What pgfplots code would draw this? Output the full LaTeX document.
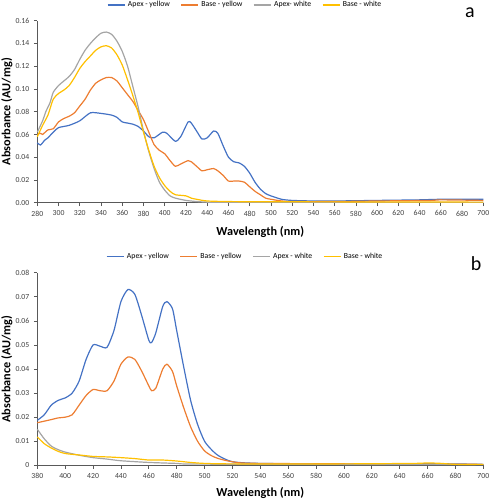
\documentclass[border=0pt]{standalone}
\usepackage{pgfplots}
\pgfplotsset{compat=1.18}
\usepackage{fontspec}
\setmainfont{Carlito}
\definecolor{cblue}{HTML}{4472C4}
\definecolor{corange}{HTML}{ED7D31}
\definecolor{cgray}{HTML}{A5A5A5}
\definecolor{cgold}{HTML}{FFC000}
\definecolor{axgray}{HTML}{595959}
\pgfplotsset{
  common/.style={
    scale only axis,
    width=334.5pt,
    axis x line*=bottom,
    axis y line*=left,
    axis line style={-,draw=axgray,line width=0.6pt},
    tick align=outside,
    major tick length=2.5pt,
    tick style={draw=axgray,line width=0.5pt},
    minor tick num=0,
    scaled y ticks=false,
    scaled x ticks=false,
    ticklabel style={font=\fontsize{5.8}{6}\selectfont, text=black!75},
    /pgf/number format/assume math mode=true,
    xlabel={\textbf{Wavelength (nm)}},
    ylabel={\textbf{Absorbance (AU/mg)}},
    label style={font=\fontsize{9.2}{10}\selectfont},
    ylabel style={at={(axis description cs:-0.068,0.5)},anchor=center},
    legend columns=4,
    legend style={draw=none, fill=none, font=\fontsize{5.8}{6}\selectfont, anchor=center,
      /tikz/every even column/.append style={column sep=6pt}},
    legend image code/.code={\draw[#1] (0cm,0cm) -- (0.45cm,0cm);},
    every axis plot/.append style={line width=0.9pt, no markers, smooth, tension=0.4},
    clip=false,
  }
}
\begin{document}
\begin{tikzpicture}
\useasboundingbox (0,0) rectangle (368.25pt,375pt);
% ---------------- panel a
\begin{axis}[common,
  at={(27.98pt,222.98pt)}, anchor=south west,
  height=136.5pt,
  xmin=280, xmax=700, ymin=0, ymax=0.16,
  xtick={280,300,...,700},
  ytick={0,0.02,...,0.16},
  yticklabel style={/pgf/number format/fixed,/pgf/number format/fixed zerofill,/pgf/number format/precision=2},
  xlabel style={at={(axis description cs:0.5,-0.161)},anchor=center},
  legend style={at={(axis description cs:0.4668,1.086)}},
]
\addplot[cblue] coordinates {(280,0.0527)(283,0.0507)(287,0.055)(290,0.057)(295,0.062)(300,0.066)(310,0.068)(320,0.072)(330,0.079)(340,0.0785)(350,0.077)(355,0.075)(360,0.071)(365,0.070)(370,0.069)(375,0.067)(380,0.063)(385,0.058)(390,0.057)(398,0.062)(402,0.061)(410,0.054)(415,0.058)(422,0.071)(425,0.070)(430,0.063)(435,0.056)(440,0.057)(446,0.063)(450,0.061)(455,0.050)(460,0.040)(465,0.036)(470,0.035)(475,0.032)(480,0.026)(485,0.018)(490,0.012)(495,0.008)(500,0.006)(510,0.003)(520,0.002)(540,0.0015)(560,0.0015)(600,0.002)(640,0.0025)(660,0.003)(700,0.003)};
\addlegendentry{Apex - yellow}
\addplot[corange] coordinates {(280,0.060)(283,0.061)(285,0.060)(290,0.064)(295,0.065)(300,0.071)(305,0.074)(310,0.076)(315,0.079)(320,0.085)(325,0.091)(330,0.099)(335,0.105)(340,0.108)(345,0.110)(350,0.110)(355,0.107)(360,0.101)(365,0.095)(370,0.089)(375,0.081)(380,0.073)(385,0.062)(390,0.051)(395,0.046)(400,0.043)(405,0.037)(410,0.032)(415,0.034)(422,0.037)(425,0.036)(430,0.032)(435,0.028)(440,0.029)(446,0.030)(450,0.028)(455,0.024)(460,0.019)(465,0.019)(470,0.019)(475,0.018)(480,0.014)(485,0.010)(490,0.007)(495,0.004)(500,0.003)(510,0.0015)(520,0.001)(560,0.001)(600,0.0015)(650,0.002)(660,0.0025)(700,0.002)};
\addlegendentry{Base - yellow}
\addplot[cgray] coordinates {(280,0.062)(285,0.072)(288,0.080)(292,0.088)(295,0.097)(300,0.103)(305,0.107)(310,0.111)(315,0.117)(320,0.126)(325,0.134)(330,0.140)(335,0.145)(340,0.149)(345,0.150)(350,0.148)(355,0.142)(360,0.133)(365,0.120)(370,0.102)(375,0.084)(380,0.063)(385,0.045)(390,0.030)(395,0.018)(400,0.011)(405,0.006)(410,0.004)(420,0.002)(430,0.001)(440,0.0005)(460,0.0003)(700,0.0003)};
\addlegendentry{Apex- white}
\addplot[cgold] coordinates {(280,0.058)(285,0.068)(290,0.077)(295,0.091)(300,0.096)(305,0.099)(310,0.103)(315,0.110)(320,0.118)(325,0.124)(330,0.129)(335,0.134)(340,0.137)(345,0.138)(350,0.136)(355,0.130)(360,0.121)(365,0.108)(370,0.094)(375,0.079)(380,0.062)(385,0.046)(390,0.032)(395,0.022)(400,0.015)(405,0.010)(410,0.007)(420,0.006)(425,0.004)(430,0.003)(440,0.0015)(460,0.001)(500,0.0008)(700,0.0005)};
\addlegendentry{Base - white}
\end{axis}
\node[font=\fontsize{15}{16}\selectfont] at (352.5pt,365.25pt) {a};
% ---------------- panel b
\begin{axis}[common,
  at={(27.98pt,26.0pt)}, anchor=south west,
  height=144.45pt,
  xmin=380, xmax=700, ymin=0, ymax=0.08,
  xtick={380,400,...,700},
  ytick={0,0.01,...,0.08},
  yticklabel style={/pgf/number format/fixed,/pgf/number format/precision=2},
  xlabel style={at={(axis description cs:0.5,-0.144)},anchor=center},
  legend style={at={(axis description cs:0.4668,1.084)}},
]
\addplot[cblue] coordinates {(380,0.0187)(385,0.021)(390,0.025)(395,0.027)(400,0.028)(405,0.030)(410,0.035)(415,0.044)(420,0.050)(425,0.0495)(430,0.049)(435,0.056)(440,0.068)(445,0.073)(450,0.071)(455,0.062)(460,0.052)(462,0.051)(465,0.055)(470,0.066)(473,0.068)(477,0.065)(480,0.056)(485,0.041)(490,0.027)(495,0.017)(500,0.010)(505,0.0065)(510,0.004)(520,0.0015)(540,0.0008)(600,0.0005)(660,0.0007)(700,0.0004)};
\addlegendentry{Apex - yellow}
\addplot[corange] coordinates {(380,0.0177)(390,0.019)(395,0.0197)(400,0.020)(405,0.021)(410,0.025)(415,0.029)(420,0.0315)(425,0.031)(430,0.031)(435,0.035)(440,0.042)(445,0.045)(450,0.044)(455,0.039)(460,0.033)(462,0.031)(465,0.032)(470,0.040)(473,0.042)(477,0.039)(480,0.033)(485,0.024)(490,0.016)(495,0.010)(500,0.006)(505,0.004)(510,0.0028)(520,0.0015)(540,0.0008)(700,0.0004)};
\addlegendentry{Base - yellow}
\addplot[cgray] coordinates {(380,0.015)(385,0.011)(390,0.008)(395,0.0065)(400,0.0055)(410,0.0042)(420,0.0032)(430,0.0026)(440,0.0019)(460,0.0012)(480,0.0008)(500,0.0005)(700,0.0003)};
\addlegendentry{Apex - white}
\addplot[cgold] coordinates {(380,0.0118)(385,0.009)(390,0.0072)(395,0.0058)(400,0.0049)(410,0.0043)(420,0.0037)(430,0.0035)(440,0.0032)(450,0.0028)(460,0.0022)(470,0.0022)(480,0.0018)(490,0.0012)(500,0.0008)(520,0.0006)(600,0.0006)(650,0.0008)(660,0.001)(670,0.0008)(680,0.0004)(700,0.0004)};
\addlegendentry{Base - white}
\end{axis}
\node[font=\fontsize{15}{16}\selectfont] at (357pt,177pt) {b};
\end{tikzpicture}
\end{document}
